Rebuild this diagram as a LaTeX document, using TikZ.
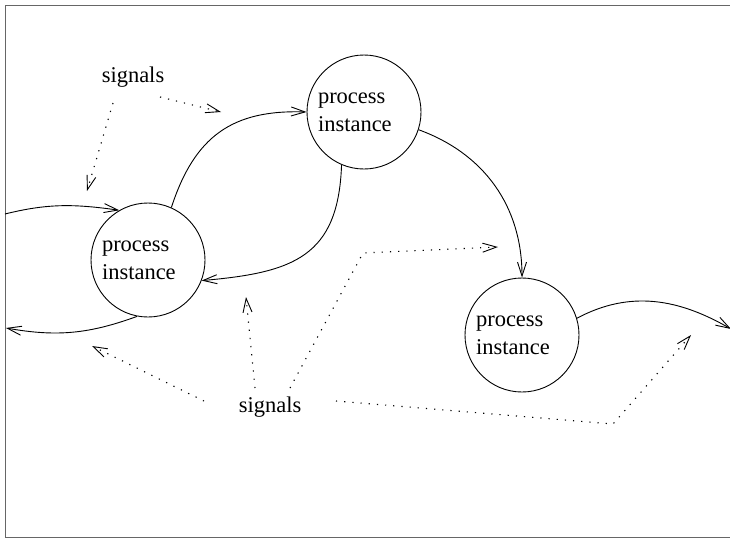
\documentclass[tikz,border=0pt]{standalone}
\usepackage{fontspec}
\setmainfont{Liberation Serif}
\usetikzlibrary{arrows.meta}
\begin{document}
\begin{tikzpicture}[x=1pt,y=1pt,
  proc/.style={draw, circle, minimum size=114pt, inner sep=0pt, line width=0.9pt,
    align=left, text width=92pt, font=\fontsize{22.5}{28}\selectfont},
  sig/.style={font=\fontsize{22.5}{28}\selectfont, inner sep=0pt},
  flow/.style={line width=0.9pt, -{Straight Barb[length=14pt,width=9pt]}},
  signal/.style={line width=1.1pt, dash pattern=on 1.2pt off 7pt,
    -{Straight Barb[length=14pt,width=9pt,line width=0.9pt]}},
  frame/.style={draw=black!60, line width=1pt}]
\useasboundingbox (0,0) rectangle (730,-538);
\clip (0,0) rectangle (730,-538);
\draw[frame] (730,-5) -- (5,-5) -- (5,-537) -- (730,-537);

\node[proc] (A) at (148,-260) {process\\instance};
\node[proc] (B) at (364,-112) {process\\instance};
\node[proc] (C) at (522,-335) {process\\instance};
\node[sig] (s1) at (133,-77) {signals};
\node[sig] (s2) at (270,-407) {signals};

\coordinate (c1s) at (5,-214);
\coordinate (c2e) at (6,-328);
\coordinate (c6e) at (731,-329);

\coordinate (d1s) at (160,-97);  \coordinate (t1) at (221,-112);
\coordinate (d2s) at (113,-103); \coordinate (t2) at (87,-191);
\coordinate (d3s) at (204,-401); \coordinate (t3) at (92,-346);
\coordinate (d4s) at (255,-388); \coordinate (t4) at (246,-297);
\coordinate (d5s) at (290,-388); \coordinate (k5) at (363,-253); \coordinate (t5) at (498,-247);
\coordinate (d6s) at (336,-401); \coordinate (k6) at (613,-424); \coordinate (t6) at (691,-335);

\draw[flow] (c1s) to[out=14,in=172] (A.120);
\draw[flow] (A.259) to[out=200,in=-10] (c2e);
\draw[flow] (A.66) to[out=72,in=178,looseness=1.15] (B.180);
\draw[flow] (B.247) to[out=268,in=5,looseness=1.3] (A.339);
\draw[flow] (B.342) to[out=-20,in=90] (C.90);
\draw[flow] (C.17) to[out=28,in=150] (c6e);

\draw[signal] (d1s) -- (t1);
\draw[signal] (d2s) -- (t2);
\draw[signal] (d3s) -- (t3);
\draw[signal] (d4s) -- (t4);
\draw[signal] (d5s) -- (k5) -- (t5);
\draw[signal] (d6s) -- (k6) -- (t6);
\end{tikzpicture}
\end{document}
